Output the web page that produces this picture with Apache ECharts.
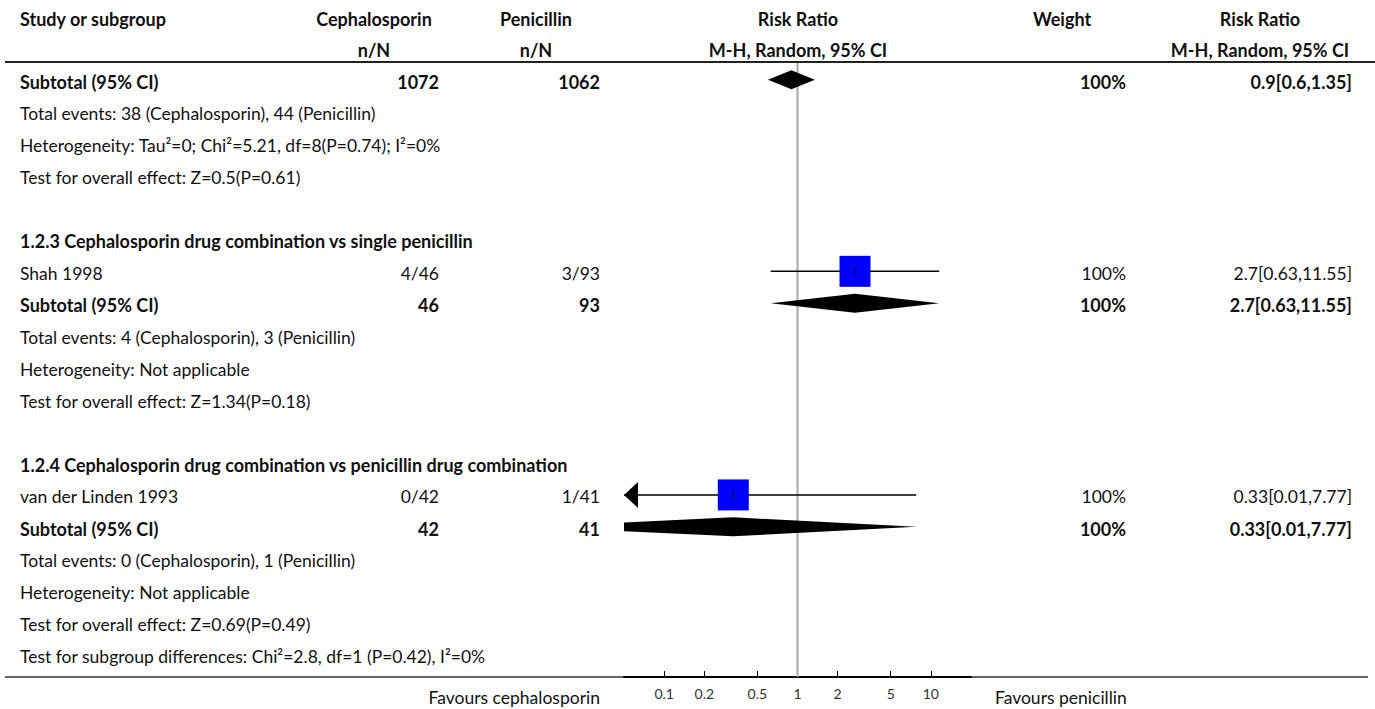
<!DOCTYPE html>
<html>
<head>
<meta charset="utf-8">
<title>Cephalosporin vs penicillin – forest plot</title>
<script src="https://cdn.jsdelivr.net/npm/echarts@6/dist/echarts.min.js"></script>
<style>
  html, body { margin: 0; padding: 0; background: #fff; }
  #chart { width: 1375px; height: 709px; }
</style>
</head>
<body>
<div id="chart"></div>
<script>
// ---- data -------------------------------------------------------------
const studyNames   = ['Shah 1998', 'van der Linden 1993'];
const studyCephE   = [4, 0];
const studyCephN   = [46, 42];
const studyPenE    = [3, 1];
const studyPenN    = [93, 41];
const studyRR      = [2.7, 0.33];
const studyLow     = [0.63, 0.01];
const studyHigh    = [11.55, 7.77];
const studyWeight  = [100, 100];

const subtotalRR     = [0.9, 2.7, 0.33];
const subtotalLow    = [0.6, 0.63, 0.01];
const subtotalHigh   = [1.35, 11.55, 7.77];
const subtotalCephN  = [1072, 46, 42];
const subtotalPenN   = [1062, 93, 41];
const subtotalCephE  = [38, 4, 0];
const subtotalPenE   = [44, 3, 1];
const subtotalWeight = [100, 100, 100];
const heterogeneity  = [
  'Heterogeneity: Tau\u00B2=0; Chi\u00B2=5.21, df=8(P=0.74); I\u00B2=0%',
  'Heterogeneity: Not applicable',
  'Heterogeneity: Not applicable'
];
const overallEffect  = [
  'Test for overall effect: Z=0.5(P=0.61)',
  'Test for overall effect: Z=1.34(P=0.18)',
  'Test for overall effect: Z=0.69(P=0.49)'
];
const subgroupTitles = [
  '1.2.3 Cephalosporin drug combination vs single penicillin',
  '1.2.4 Cephalosporin drug combination vs penicillin drug combination'
];
const subgroupTest = 'Test for subgroup differences: Chi\u00B2=2.8, df=1 (P=0.42), I\u00B2=0%';

const tickValues = [0.1, 0.2, 0.5, 1, 2, 5, 10];
const axisRange  = [0.05, 20];
const nullValue  = 1;

// ---- layout -----------------------------------------------------------
const W = 1375, H = 709;
const plot = { left: 624, width: 347, axisY: 677 };
const col = { name: 20, ceph: 439, pen: 600, weight: 1126, rr: 1352,
              cephHead: 374, penHead: 536, plotHead: 798, weightHead: 1062, rrHead: 1260 };
const headY = [18.5, 50];
const ROW0 = 81.7, PITCH = 31.94, MARK_SHIFT = -2;
function rowAt(i) { return ROW0 + PITCH * i; }
// table rows by line index
const rowIdx = {
  subtotal: [0, 7, 14],
  events:   [1, 8, 15],
  het:      [2, 9, 16],
  effect:   [3, 10, 17],
  title:    [5, 12],
  study:    [6, 13],
  subgroupTest: 18
};
const favoursY = 697;

const FONT = 'Lato, "Noto Sans", sans-serif';
const INK = '#111';
const normal = '17.5px ' + FONT;
const bold = 'bold 18px ' + FONT;

function txt(text, x, y, font, align) {
  return { type: 'text', x: x, y: y, silent: true,
    style: { text: text, font: font, fill: INK, align: align || 'left', verticalAlign: 'middle' } };
}
function hline(x1, x2, y, w, c) {
  return { type: 'line', silent: true, shape: { x1: x1, y1: y, x2: x2, y2: y },
    style: { stroke: c, lineWidth: w } };
}

const graphics = [];
// header
graphics.push(txt('Study or subgroup', col.name, headY[0], bold));
graphics.push(txt('Cephalosporin', col.cephHead, headY[0], bold, 'center'));
graphics.push(txt('Penicillin', col.penHead, headY[0], bold, 'center'));
graphics.push(txt('Risk Ratio', col.plotHead, headY[0], bold, 'center'));
graphics.push(txt('Weight', col.weightHead, headY[0], bold, 'center'));
graphics.push(txt('Risk Ratio', col.rrHead, headY[0], bold, 'center'));
graphics.push(txt('n/N', col.cephHead, headY[1], bold, 'center'));
graphics.push(txt('n/N', col.penHead, headY[1], bold, 'center'));
graphics.push(txt('M-H, Random, 95% CI', col.plotHead, headY[1], bold, 'center'));
graphics.push(txt('M-H, Random, 95% CI', col.rrHead, headY[1], bold, 'center'));
graphics.push(hline(5, W, 62, 2, '#222'));

// subgroup titles
subgroupTitles.forEach(function (t, i) { graphics.push(txt(t, col.name, rowAt(rowIdx.title[i]), bold)); });

// studies
studyNames.forEach(function (n, i) {
  const y = rowAt(rowIdx.study[i]);
  graphics.push(txt(n, col.name, y, normal));
  graphics.push(txt(studyCephE[i] + '/' + studyCephN[i], col.ceph, y, normal, 'right'));
  graphics.push(txt(studyPenE[i] + '/' + studyPenN[i], col.pen, y, normal, 'right'));
  graphics.push(txt(studyWeight[i] + '%', col.weight, y, normal, 'right'));
  graphics.push(txt(studyRR[i] + '[' + studyLow[i] + ',' + studyHigh[i] + ']', col.rr, y, normal, 'right'));
});

// subtotals and their footnotes
subtotalRR.forEach(function (r, i) {
  const y = rowAt(rowIdx.subtotal[i]);
  graphics.push(txt('Subtotal (95% CI)', col.name, y, bold));
  graphics.push(txt(String(subtotalCephN[i]), col.ceph, y, bold, 'right'));
  graphics.push(txt(String(subtotalPenN[i]), col.pen, y, bold, 'right'));
  graphics.push(txt(subtotalWeight[i] + '%', col.weight, y, bold, 'right'));
  graphics.push(txt(r + '[' + subtotalLow[i] + ',' + subtotalHigh[i] + ']', col.rr, y, bold, 'right'));
  graphics.push(txt('Total events: ' + subtotalCephE[i] + ' (Cephalosporin), ' + subtotalPenE[i] + ' (Penicillin)',
    col.name, rowAt(rowIdx.events[i]), normal));
  graphics.push(txt(heterogeneity[i], col.name, rowAt(rowIdx.het[i]), normal));
  graphics.push(txt(overallEffect[i], col.name, rowAt(rowIdx.effect[i]), normal));
});
graphics.push(txt(subgroupTest, col.name, rowAt(rowIdx.subgroupTest), normal));

// footer
graphics.push(hline(5, 1368, plot.axisY, 1.5, '#333'));
graphics.push(txt('Favours cephalosporin', col.pen, favoursY, normal, 'right'));
graphics.push(txt('Favours penicillin', 995, favoursY, normal, 'left'));

// ---- marks ------------------------------------------------------------
const lg = Math.log10;
const studyData = studyNames.map(function (n, i) {
  return [lg(studyRR[i]), rowAt(rowIdx.study[i]) + MARK_SHIFT, lg(studyLow[i]), lg(studyHigh[i]), studyWeight[i]];
});
const diamondData = subtotalRR.map(function (r, i) {
  return [lg(r), rowAt(rowIdx.subtotal[i]) + MARK_SHIFT, lg(subtotalLow[i]), lg(subtotalHigh[i])];
});

const chart = echarts.init(document.getElementById('chart'), null, { renderer: 'svg', width: W, height: H });

chart.setOption({
  animation: false,
  backgroundColor: '#fff',
  grid: [{ left: plot.left, width: plot.width, top: 0, height: plot.axisY }],
  xAxis: [{
    type: 'value', min: lg(axisRange[0]), max: lg(axisRange[1]),
    axisLine: { show: true, onZero: false, lineStyle: { color: '#000', width: 2 } },
    axisTick: { show: true, inside: true, length: 6, customValues: tickValues.map(lg),
      lineStyle: { color: '#000', width: 1 } },
    axisLabel: { show: true, customValues: tickValues.map(lg), margin: 9,
      color: '#333', fontSize: 14, fontFamily: FONT,
      formatter: function (v) { return String(+Math.pow(10, v).toPrecision(2)); } },
    splitLine: { show: false }
  }],
  yAxis: [{ type: 'value', min: 0, max: plot.axisY, inverse: true, show: false }],
  graphic: graphics,
  series: [
    {
      // line of no effect
      type: 'custom', clip: true, z: 1,
      data: [[lg(nullValue), 63, plot.axisY]],
      renderItem: function (params, api) {
        const a = api.coord([api.value(0), api.value(1)]);
        const b = api.coord([api.value(0), api.value(2)]);
        return { type: 'line', shape: { x1: a[0], y1: a[1], x2: b[0], y2: b[1] },
          style: { stroke: '#a8a8a8', lineWidth: 2 } };
      }
    },
    {
      // individual studies: CI whisker, weighted square, arrow when the CI leaves the scale
      type: 'custom', clip: true, z: 3,
      data: studyData,
      renderItem: function (params, api) {
        const y = api.value(1);
        const c = api.coord([api.value(0), y]);
        const lo = api.coord([api.value(2), y]);
        const hi = api.coord([api.value(3), y]);
        const left = params.coordSys.x, right = params.coordSys.x + params.coordSys.width;
        const side = 31 * Math.sqrt(api.value(4) / 100);
        const children = [];
        const x1 = Math.max(lo[0], left), x2 = Math.min(hi[0], right);
        children.push({ type: 'line', shape: { x1: x1, y1: c[1], x2: x2, y2: c[1] },
          style: { stroke: '#000', lineWidth: 1.5 } });
        if (lo[0] < left) {
          children.push({ type: 'polygon', shape: { points: [[left, c[1]], [left + 14, c[1] - 13], [left + 14, c[1] + 13]] },
            style: { fill: '#000' } });
        }
        if (hi[0] > right) {
          children.push({ type: 'polygon', shape: { points: [[right, c[1]], [right - 14, c[1] - 13], [right - 14, c[1] + 13]] },
            style: { fill: '#000' } });
        }
        children.push({ type: 'rect', shape: { x: c[0] - side / 2, y: c[1] - side / 2, width: side, height: side },
          style: { fill: '#0000ff' } });
        children.push({ type: 'line', shape: { x1: c[0], y1: c[1] - 4, x2: c[0], y2: c[1] + 4 },
          style: { stroke: '#000', lineWidth: 1 } });
        return { type: 'group', children: children };
      }
    },
    {
      // pooled estimates as diamonds
      type: 'custom', clip: true, z: 3,
      data: diamondData,
      renderItem: function (params, api) {
        const y = api.value(1);
        const c = api.coord([api.value(0), y]);
        const lo = api.coord([api.value(2), y]);
        const hi = api.coord([api.value(3), y]);
        const h = 9.5;
        return { type: 'polygon',
          shape: { points: [[lo[0], c[1]], [c[0], c[1] - h], [hi[0], c[1]], [c[0], c[1] + h]] },
          style: { fill: '#000' } };
      }
    }
  ]
});
</script>
</body>
</html>
